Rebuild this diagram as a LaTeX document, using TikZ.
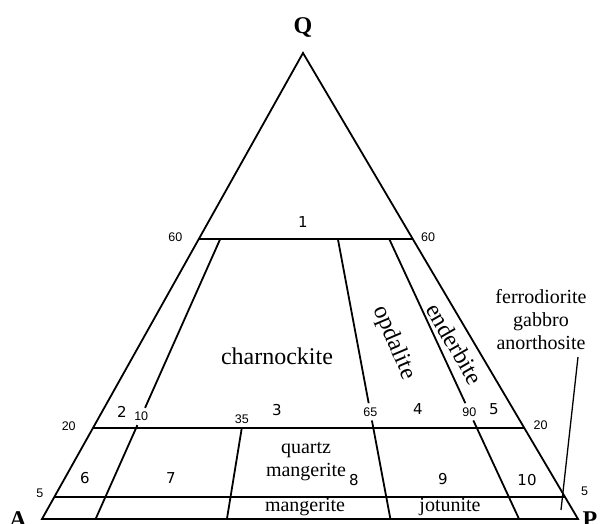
\documentclass[tikz,border=0pt]{standalone}
\usepackage{fontspec}
\setmainfont{Liberation Serif}
\newfontfamily\numfont{DejaVu Sans}
\newfontfamily\tickfont{Liberation Sans}
\usetikzlibrary{calc}

\begin{document}
\begin{tikzpicture}[x=1pt, y=1pt,
    edge/.style={line width=1.8pt},
    lead/.style={line width=1.3pt},
    tick/.style={font=\tickfont\fontsize{12.5}{13}\selectfont, inner sep=1pt},
    cut/.style={tick, inner sep=4pt},
    field/.style={font=\numfont\fontsize{15}{15}\selectfont},
    rock/.style={font=\fontsize{20}{23}\selectfont, align=center},
    bigrock/.style={font=\fontsize{24}{26}\selectfont, inner sep=1pt},
    apex/.style={font=\bfseries\fontsize{24}{24}\selectfont}
]
\useasboundingbox (0,0) rectangle (600,524);

\coordinate (A) at (42,5);
\coordinate (P) at (578,5);
\coordinate (Q) at (303,471);

\foreach \name/\q in {60/0.6, 20/0.195, 5/0.048} {
  \coordinate (l\name) at ($(A)!\q!(Q)$);
  \coordinate (r\name) at ($(P)!\q!(Q)$);
}
\foreach \name/\r in {10/0.1, 35/0.345, 65/0.65, 90/0.89} {
  \coordinate (b\name) at ($(A)!\r!(P)$);
  \coordinate (t\name) at ($(b\name)!0.6!(Q)$);
}
\coordinate (t35) at ($(b35)!0.195!(Q)$);

\draw[edge, line join=miter] (A) -- (Q) -- (P) -- cycle;
\draw[edge] (l60) -- (r60) (l20) -- (r20) (l5) -- (r5);

% cut lines and their values
\node[cut] (n10) at ($(b10)!0.22!(Q)$) {10};
\node[cut] (n65) at ($(b65)!0.23!(Q)$) {65};
\node[cut] (n90) at ($(b90)!0.23!(Q)$) {90};
\node[tick, above=3pt] (n35) at (t35) {35};
\draw[edge] (t10) -- (n10) (n10) -- (b10);
\draw[edge] (t65) -- (n65) (n65) -- (b65);
\draw[edge] (t90) -- (n90) (n90) -- (b90);
\draw[edge] (t35) -- (b35);

\node[tick, left=15pt, yshift=2pt] (v60l) at (l60) {60};
\node[tick, right=7pt, yshift=2pt] (v60r) at (r60) {60};
\node[tick, left=16pt, yshift=2pt] (v20l) at (l20) {20};
\node[tick, right=8pt, yshift=3pt] (v20r) at (r20) {20};
\node[tick, left=10pt, yshift=3pt] (v5l) at (l5) {5};
\node[tick, right=15pt, yshift=5pt] (v5r) at (r5) {5};

\node[apex] (q) at (303,496) {Q};
\node[apex] (a) at (18,4) {A};
\node[apex] (p) at (590,4) {P};

\node[field] (f1) at (303,302) {1};
\node[field] (f2) at (122,112) {2};
\node[field] (f3) at (277,114) {3};
\node[field] (f4) at (418,115) {4};
\node[field] (f5) at (494,115) {5};
\node[field] (f6) at (85,46) {6};
\node[field] (f7) at (171,46) {7};
\node[field] (f8) at (354,44) {8};
\node[field] (f9) at (443,45) {9};
\node[field] (f10) at (527,44) {10};

\node[bigrock] (charn) at (277,168) {charnockite};
\node[bigrock, rotate=-67] (opd) at (394,181) {opdalite};
\node[bigrock, rotate=-60] (end) at (455,180) {enderbite};
\node[rock] (qm) at (306,62) {quartz\\mangerite};
\node[rock] (mang) at (305,17) {mangerite};
\node[rock] (jot) at (450,17) {jotunite};
\node[rock] (fga) at (541,204) {ferrodiorite\\gabbro\\anorthosite};

\coordinate (lt) at (578,167);
\coordinate (lb) at (561,14);
\draw[lead] (lt) -- (lb);
\end{tikzpicture}
\end{document}
